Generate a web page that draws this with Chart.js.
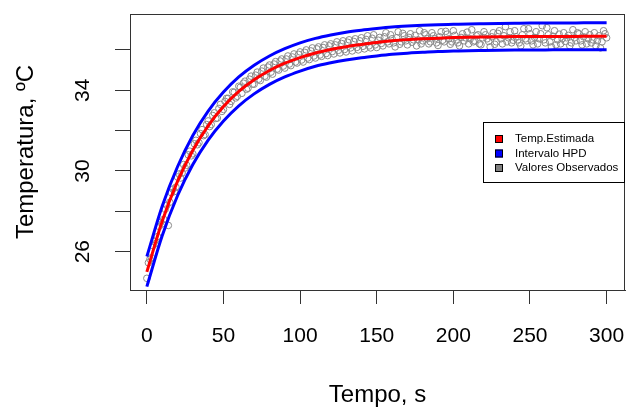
<!DOCTYPE html>
<html><head><meta charset="utf-8">
<script src="https://cdn.jsdelivr.net/npm/chart.js@4/dist/chart.umd.min.js"></script>
<style>html,body{margin:0;padding:0;background:#fff}#wrap{width:630px;height:408px}</style>
</head><body><div id="wrap"><canvas id="c" width="630" height="408"></canvas></div>
<script>
const fitTime = [0,10,20,30,40,50,60,70,80,90,100,110,120,130,140,150,160,170,180,190,200,210,220,230,240,250,260,270,280,290,300];
const fitTemp = [25.00,27.51,29.48,31.03,32.24,33.19,33.94,34.52,34.98,35.34,35.62,35.85,36.02,36.16,36.27,36.37,36.45,36.51,36.55,36.58,36.61,36.63,36.64,36.65,36.66,36.66,36.67,36.67,36.67,36.68,36.68];
const hpdUpper = [25.76,28.25,30.21,31.76,32.97,33.91,34.66,35.24,35.70,36.06,36.35,36.57,36.74,36.88,36.98,37.06,37.13,37.18,37.22,37.25,37.27,37.29,37.30,37.31,37.32,37.33,37.33,37.34,37.34,37.35,37.35];
const hpdLower = [24.27,26.79,28.77,30.32,31.53,32.48,33.23,33.82,34.29,34.66,34.95,35.19,35.36,35.50,35.61,35.70,35.78,35.84,35.88,35.92,35.94,35.96,35.97,35.98,35.99,36.00,36.00,36.01,36.01,36.01,36.01];
// observed readings at even seconds (0,2,...,300)
const obsTempEven = [
24.68,25.62,26.30,26.42,27.25,27.38,28.10,27.30,28.92,28.98,
29.70,29.65,30.32,30.28,30.98,30.85,31.52,31.40,32.05,31.80,
32.48,32.30,32.88,32.62,33.30,33.05,33.60,33.30,33.92,33.62,
34.20,33.85,34.45,34.10,34.70,34.30,34.90,34.48,35.10,34.65,
35.25,34.80,35.42,35.00,35.55,35.10,35.70,35.22,35.80,35.35,
35.90,35.40,36.00,35.52,36.10,35.60,36.15,35.68,36.25,35.72,
36.30,35.80,36.40,35.85,36.45,35.90,36.50,35.95,36.55,36.00,
36.60,36.05,36.70,36.10,36.75,36.12,36.62,36.20,36.85,36.30,
36.55,36.15,36.90,36.40,36.70,36.25,36.80,36.50,36.20,36.95,
36.45,36.75,36.30,36.85,36.55,36.22,36.90,36.40,36.78,36.28,
36.95,36.50,36.20,36.80,36.60,36.30,37.00,36.45,36.75,36.25,
36.90,36.55,36.15,36.85,36.40,36.95,36.30,37.15,36.60,36.35,
36.95,36.50,36.20,37.05,36.45,36.80,36.25,36.90,36.55,37.20,
36.35,36.75,36.15,36.95,36.50,36.30,36.85,36.60,36.20,37.00,
36.45,36.80,36.25,36.90,36.55,36.35,36.85,36.45,36.10,36.95,
36.60];
// observed readings at odd seconds (1,3,...,299)
const obsTempOdd = [
25.45,25.70,26.50,26.75,27.45,27.60,28.30,28.45,29.10,29.20,
29.85,29.90,30.15,30.80,30.75,31.35,31.30,31.85,31.75,32.30,
32.20,32.75,32.60,33.10,32.95,33.45,33.60,33.45,33.90,33.70,
34.15,34.35,34.05,34.55,34.30,34.75,34.55,34.95,34.70,35.15,
34.90,35.30,35.05,35.45,35.20,35.55,35.30,35.65,35.40,35.78,
35.50,35.88,35.60,35.95,35.70,36.05,35.75,36.12,35.82,36.20,
35.92,36.25,35.98,36.32,36.02,36.38,36.10,36.42,36.12,36.45,
36.18,36.52,36.20,36.58,36.25,
36.48,36.32,36.65,36.40,36.75,36.35,36.60,36.28,36.82,36.45,
36.62,36.38,36.72,36.50,36.30,36.85,36.55,36.40,36.70,36.35,
36.65,36.48,36.92,36.55,36.40,36.72,36.35,36.62,36.45,36.88,
36.55,36.40,36.70,36.30,36.60,36.75,36.42,36.65,36.28,36.82,
36.55,36.70,36.40,36.90,36.48,36.65,36.35,36.75,36.55,37.05,
36.45,36.62,36.30,36.80,36.50,37.10,36.40,36.68,36.25,36.78,
36.55,36.42,36.72,36.35,36.60,36.85,36.45,36.65,36.30,36.75,
36.50,36.20,36.70,36.40,36.80];
const xTicks = [0,50,100,150,200,250,300];
const yTicks = [26,28,30,32,34,36];
const yLabelled = [26,30,34];
const legendLabels = ['Temp.Estimada','Intervalo HPD','Valores Observados'];
const legendColors = ['#ff0000','#0000ff','#808080'];
const xTitle = 'Tempo, s';
const yTitle = 'Temperatura, ºC';

const pts = (xs, ys) => xs.map((x, i) => ({x, y: ys[i]}));
// time grid of the readings: one every second
const obsPoints = obsTempEven.map((y, i) => ({x: 2 * i, y}))
  .concat(obsTempOdd.map((y, i) => ({x: 2 * i + 1, y})));
const FONT = "'Liberation Sans', Arial, sans-serif";

const framePlugin = {
  id: 'frame',
  afterDraw(chart) {
    const {ctx, chartArea: a} = chart;
    ctx.save();
    ctx.strokeStyle = '#333';
    ctx.lineWidth = 1;
    ctx.strokeRect(Math.round(a.left) + 0.5, Math.round(a.top) + 0.5, Math.round(a.right - a.left) - 1, Math.round(a.bottom - a.top));
    // legend
    const bx = Math.round(a.right) - 142, by = Math.round(a.top) + 108, bw = 141, bh = 60;
    ctx.fillStyle = '#fff';
    ctx.fillRect(bx, by, bw, bh);
    ctx.strokeStyle = '#000';
    ctx.strokeRect(bx + 0.5, by + 0.5, bw, bh);
    ctx.font = '11.5px ' + FONT;
    ctx.textBaseline = 'middle';
    legendLabels.forEach((lab, i) => {
      const cy = by + 17 + i * 14.5;
      ctx.fillStyle = legendColors[i];
      ctx.fillRect(bx + 12, cy - 4, 8, 8);
      ctx.strokeStyle = '#000';
      ctx.strokeRect(bx + 12.5, cy - 3.5, 7, 7);
      ctx.fillStyle = '#000';
      ctx.fillText(lab, bx + 32, cy);
    });
    ctx.restore();
  }
};

new Chart(document.getElementById('c'), {
  type: 'line',
  data: {
    datasets: [
      {label: legendLabels[0], data: pts(fitTime, fitTemp), borderColor: '#ff0000', borderWidth: 3, pointRadius: 0, cubicInterpolationMode: 'monotone', order: 0},
      {label: legendLabels[1], data: pts(fitTime, hpdUpper), borderColor: '#0000ff', borderWidth: 3, pointRadius: 0, cubicInterpolationMode: 'monotone', order: 1},
      {label: legendLabels[1], data: pts(fitTime, hpdLower), borderColor: '#0000ff', borderWidth: 3, pointRadius: 0, cubicInterpolationMode: 'monotone', order: 1},
      {label: legendLabels[2], data: obsPoints, showLine: false, pointStyle: 'circle', pointRadius: 3.3, pointBorderWidth: 1, pointBorderColor: '#8a8a8a', pointBackgroundColor: 'rgba(0,0,0,0)', order: 2}
    ]
  },
  options: {
    responsive: false,
    animation: false,
    devicePixelRatio: 1,
    layout: {padding: {top: 14, right: 1, left: 0, bottom: 0}},
    plugins: {legend: {display: false}, tooltip: {enabled: false}},
    scales: {
      x: {
        type: 'linear', min: -11, max: 312,
        afterBuildTicks: s => { s.ticks = xTicks.map(v => ({value: v})); },
        afterFit: s => { s.height = 118; s.paddingLeft = 0; s.paddingRight = 0; },
        grid: {drawOnChartArea: false, drawTicks: true, tickLength: 14, color: '#333'},
        border: {display: true, color: '#333'},
        ticks: {color: '#000', font: {family: FONT, size: 21}, padding: 20, maxRotation: 0, autoSkip: false},
        title: {display: true, text: xTitle, color: '#000', font: {family: FONT, size: 24, lineHeight: 1}, padding: {top: 0, bottom: 1}}
      },
      y: {
        type: 'linear', min: 24.1, max: 37.78,
        afterBuildTicks: s => { s.ticks = yTicks.map(v => ({value: v})); },
        afterFit: s => { s.width = 130; s.paddingTop = 0; s.paddingBottom = 0; },
        grid: {drawOnChartArea: false, drawTicks: true, tickLength: 15, color: '#333'},
        border: {display: true, color: '#333'},
        ticks: {color: '#000', font: {family: FONT, size: 21}, padding: 20, minRotation: 90, maxRotation: 90, crossAlign: 'center', autoSkip: false,
          callback: v => yLabelled.includes(v) ? String(v) : ''},
        title: {display: true, text: yTitle, color: '#000', font: {family: FONT, size: 24, lineHeight: 1}, padding: {top: 14, bottom: 0}}
      }
    }
  },
  plugins: [framePlugin]
});
</script></body></html>
